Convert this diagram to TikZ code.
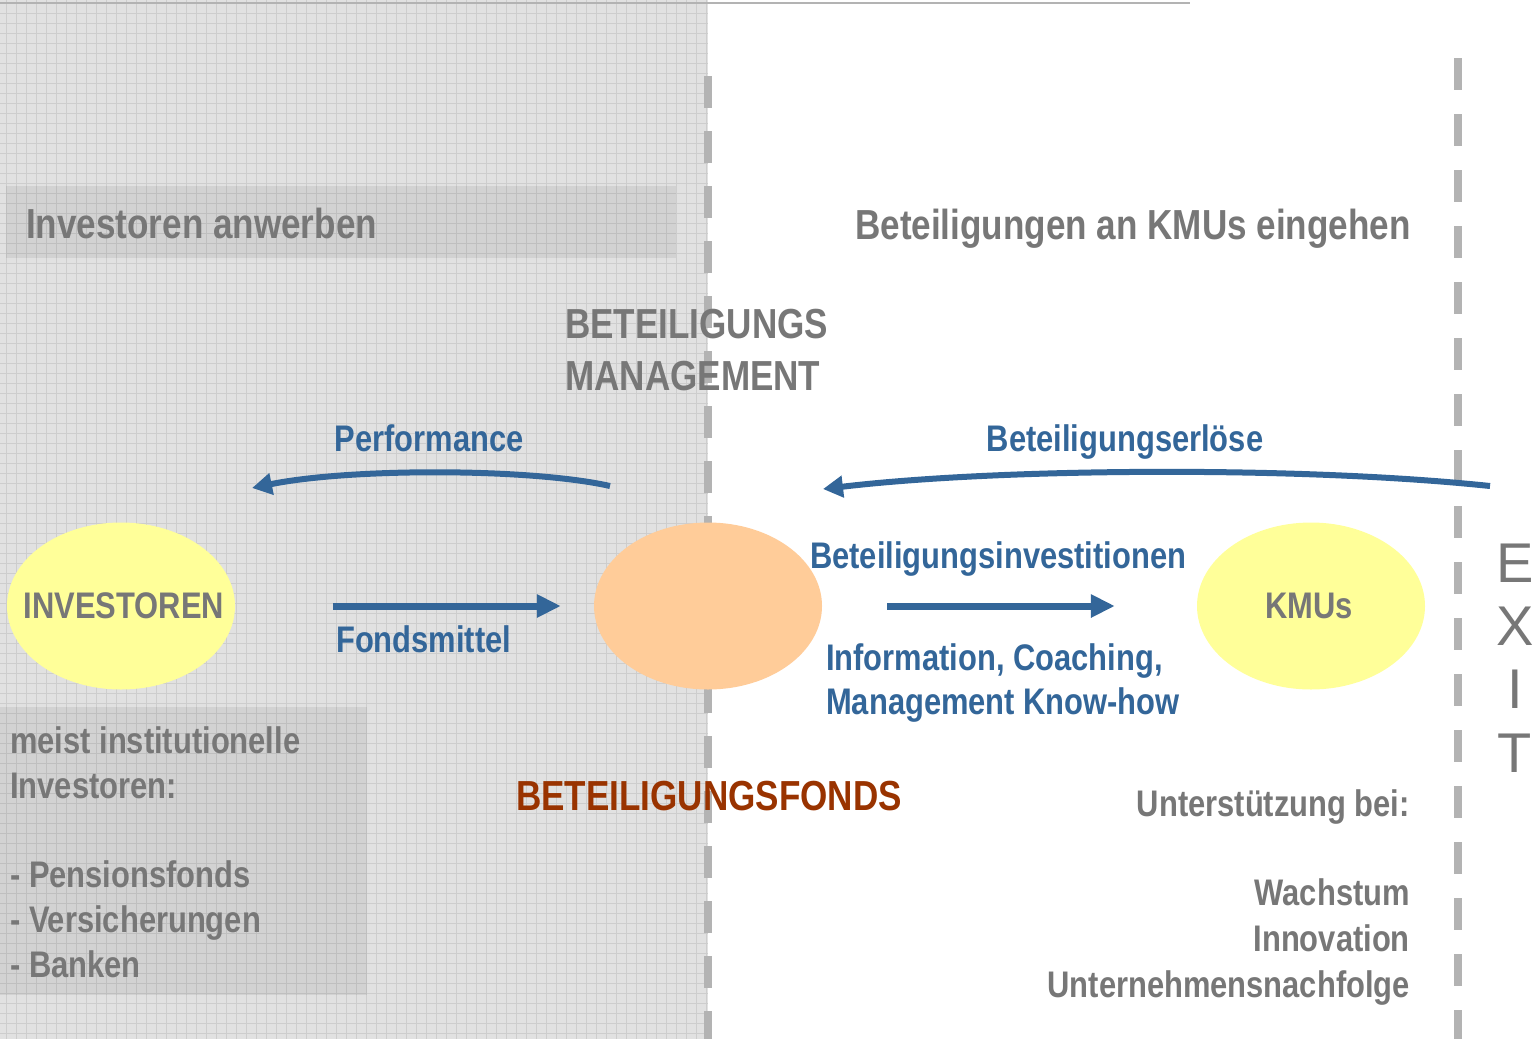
\documentclass[tikz,border=0pt]{standalone}
\usepackage{fontspec}
\setmainfont{Liberation Sans}
\newfontfamily\nb{Liberation Sans}[FakeStretch=0.835]
\usetikzlibrary{arrows.meta,shapes.geometric}
\definecolor{txtgray}{HTML}{777777}
\definecolor{arrblue}{HTML}{336699}
\definecolor{fondsred}{HTML}{993300}
\definecolor{bggray}{HTML}{E1E1E1}
\definecolor{gridgray}{HTML}{CDCDCD}
\definecolor{dashgray}{HTML}{B3B3B3}
\definecolor{yell}{HTML}{FFFF99}
\definecolor{orang}{HTML}{FFCC99}
\tikzset{
  gridline/.style={draw=gridgray, line width=0.8pt},
  shadebox/.style={fill=black, fill opacity=0.065, draw=none},
  dashline/.style={draw=dashgray, line width=8pt},
  lbl/.style={inner sep=0pt, anchor=base west, font=\nb\bfseries\fontsize{37}{44}\selectfont},
  gtxt/.style={lbl, text=txtgray},
  btxt/.style={lbl, text=arrblue},
  bigtxt/.style={lbl, text=txtgray, font=\nb\bfseries\fontsize{42}{50}\selectfont},
  oval/.style={ellipse, draw=none, minimum width=228pt, minimum height=167pt, inner sep=0pt},
  ovaltxt/.style={inner sep=0pt, text=txtgray, font=\nb\bfseries\fontsize{37}{44}\selectfont},
  straightarr/.style={draw=arrblue, line width=7pt, -{Triangle[length=24pt,width=22pt]}},
  curvearr/.style={draw=arrblue, line width=6pt, -{Triangle[length=20pt,width=21pt]}},
  exitletter/.style={inner sep=0pt, anchor=base, text=txtgray, font=\fontsize{56}{64}\selectfont}
}
\begin{document}
\begin{tikzpicture}[x=1pt,y=-1pt]
\useasboundingbox (0,0) rectangle (1534,1039);
\fill[white] (0,0) rectangle (1534,1039);
% gray grid area
\fill[bggray] (0,0) rectangle (708,1039);
\foreach \x in {6,16,...,706} \draw[gridline] (\x,0) -- (\x,1039);
\foreach \y in {3,13,...,1033} \draw[gridline] (0,\y) -- (708,\y);
% shaded boxes
\fill[shadebox] (6,186) rectangle (676,258);
\fill[shadebox] (0,707) rectangle (367,995);
% top line
\draw[draw=dashgray, line width=2.5pt] (0,3) -- (1190,3);
% dashed separators
\draw[dashline, dash pattern=on 32pt off 23pt] (708,76) -- (708,1039);
\draw[dashline, dash pattern=on 32pt off 24pt] (1458,58) -- (1458,1039);
% headings
\node[bigtxt] (anw) at (26,238) {Investoren anwerben};
\node[bigtxt] (ein) at (855,239) {Beteiligungen an KMUs eingehen};
\node[bigtxt] (bm1) at (565,338) {BETEILIGUNGS};
\node[bigtxt] (bm2) at (565,390) {MANAGEMENT};
% ellipses
\node[oval, fill=yell] (inv) at (121,606) {};
\node[ovaltxt] (invt) at ([xshift=3pt]inv.center) {INVESTOREN};
\node[oval, fill=orang] (fonds) at (708,606) {};
\node[oval, fill=yell] (kmu) at (1311,606) {};
\node[ovaltxt] (kmut) at ([xshift=-2pt]kmu.center) {KMUs};
% connectors
\coordinate (perfS) at (610,486);
\coordinate (perfE) at (252,488);
\coordinate (erlS) at (1490,486);
\coordinate (erlE) at (823,489);
\draw[curvearr] (perfS) .. controls (530,468) and (350,468) .. (perfE);
\draw[curvearr] (erlS) .. controls (1300,466) and (1000,468) .. (erlE);
\draw[straightarr] ([xshift=98pt]inv.east) -- ([xshift=-33pt]fonds.west);
\draw[straightarr] ([xshift=65pt]fonds.east) -- ([xshift=-82pt]kmu.west);
% arrow labels
\node[btxt, anchor=base] (perf) at (429,451) {Performance};
\node[btxt, anchor=base] (erl) at (1125,451) {Beteiligungserlöse};
\node[btxt] (fm) at (336,652) {Fondsmittel};
\node[btxt] (bi) at (810,568) {Beteiligungsinvestitionen};
\node[btxt] (ic1) at (826,670) {Information, Coaching,};
\node[btxt] (ic2) at (826,714) {Management Know-how};
% fonds label
\node[bigtxt, text=fondsred] (bf) at (516,810) {BETEILIGUNGSFONDS};
% investor list
\node[gtxt] (l1) at (10,753) {meist institutionelle};
\node[gtxt] (l2) at (10,798) {Investoren:};
\node[gtxt] (l3) at (10,887) {- Pensionsfonds};
\node[gtxt] (l4) at (10,932) {- Versicherungen};
\node[gtxt] (l5) at (10,977) {- Banken};
% support list
\node[gtxt, anchor=base east] (u1) at (1410,816) {Unterstützung bei:};
\node[gtxt, anchor=base east] (u2) at (1410,905) {Wachstum};
\node[gtxt, anchor=base east] (u3) at (1410,951) {Innovation};
\node[gtxt, anchor=base east] (u4) at (1410,997) {Unternehmensnachfolge};
% EXIT
\node[exitletter] (e1) at (1515,582) {E};
\node[exitletter] (e2) at (1515,645) {X};
\node[exitletter] (e3) at (1515,708) {I};
\node[exitletter] (e4) at (1515,772) {T};
\end{tikzpicture}
\end{document}
